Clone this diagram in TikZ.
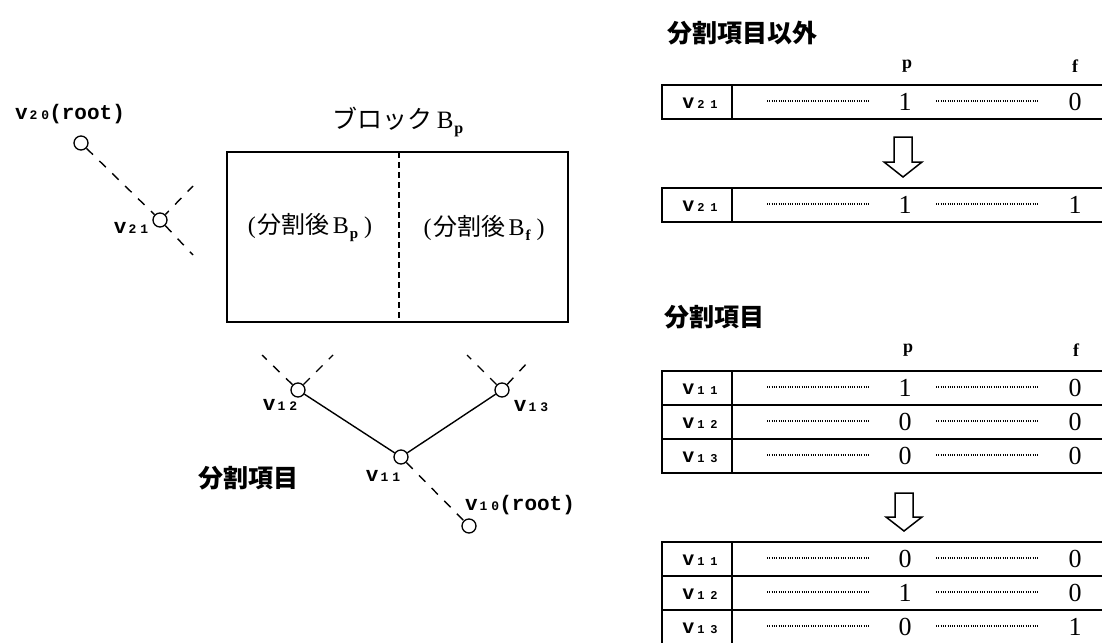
\documentclass[tikz,border=0pt]{standalone}
\usepackage{fontspec}
\setmainfont{Liberation Serif}
\newfontfamily\jp{Noto Sans CJK JP}
\newfontfamily\mono{Liberation Mono}
\newcommand{\vsub}[2]{{\mono\bfseries v\hspace{2pt}{\fontsize{13}{13}\selectfont #1\hspace{4pt}#2}}}
\newcommand{\tsub}[2]{{\mono\bfseries v\hspace{3pt}{\fontsize{12}{12}\selectfont #1\hspace{6pt}#2}}}
\newcommand{\bsub}[2]{B\hspace{1pt}\raisebox{-5pt}{\fontsize{#2}{#2}\selectfont\bfseries #1}}
\tikzset{
  vtx/.style={circle,draw,line width=1.3pt,minimum size=14pt,inner sep=0pt},
  dsh/.style={line width=1.4pt,dash pattern=on 9pt off 9pt},
  sol/.style={line width=1.4pt},
  lbl/.style={inner sep=0pt,font=\fontsize{21}{21}\selectfont},
  tlbl/.style={inner sep=0pt,font=\fontsize{20}{20}\selectfont},
  tbl/.style={line width=1.8pt},
  dotl/.style={line width=1.1pt,dash pattern=on 1pt off 1.3pt},
  num/.style={inner sep=0pt,font=\fontsize{26}{26}\selectfont},
  hd/.style={inner sep=0pt,font=\fontsize{18}{18}\selectfont\bfseries},
  jph/.style={inner sep=0pt,font=\jp\bfseries\fontsize{25}{25}\selectfont},
  jpt/.style={inner sep=0pt,font=\fontsize{24}{24}\selectfont},
  arr/.style={line width=1.5pt,line join=miter}
}
\newcommand{\trow}[5]{%
  \draw[tbl] (662,#1) rectangle (1130,#1+34);
  \draw[tbl] (732,#1) -- (732,#1+34);
  \node[tlbl] (#5l) at (700,#1+18) {#2};
  \coordinate (#5a) at (767,#1+16);
  \coordinate (#5b) at (870,#1+16);
  \coordinate (#5c) at (936,#1+16);
  \coordinate (#5d) at (1038,#1+16);
  \draw[dotl] (#5a) -- (#5b);
  \draw[dotl] (#5c) -- (#5d);
  \node[num] (#5p) at (905,#1+17) {#3};
  \node[num] (#5f) at (1075,#1+17) {#4};
}
\begin{document}
\begin{tikzpicture}[x=1pt,y=-1pt]
\useasboundingbox (0,0) rectangle (1102,642);
\begin{scope}
\clip (0,0) rectangle (1102,642);

% ---------- left tree ----------
\node[lbl] (l20) at (70,114) {\vsub{2}{0}{\mono\bfseries(root)}};
\node[vtx] (v20) at (81,143) {};
\node[vtx] (v21) at (160,220) {};
\coordinate (e21a) at (193,255);
\coordinate (e21b) at (193,186);
\draw[dsh] (v20) -- (v21);
\draw[dsh] (v21) -- (e21a);
\draw[dsh,dash phase=4pt] (v21) -- (e21b);
\node[lbl] (l21) at (131,228) {\vsub{2}{1}};

% block
\node[inner sep=0pt,font=\fontsize{25}{25}\selectfont] (bt) at (398,122) {{\jp ブロック}\,\bsub{p}{16}};
\node[draw,line width=1.4pt,minimum width=341pt,minimum height=170pt,inner sep=0pt] (blk) at (397.5,237) {};
\coordinate (dv1) at (399,152);
\coordinate (dv2) at (399,322);
\draw[line width=1.6pt,dash pattern=on 6pt off 4pt] (dv1) -- (dv2);
\node[jpt] (bp) at (310,228) {(\hspace{2pt}{\jp 分割後}\hspace{3pt}\bsub{p}{15}\hspace{6pt})};
\node[jpt] (bf) at (484,228) {(\hspace{2pt}{\jp 分割後}\hspace{3pt}\bsub{f}{15}\hspace{6pt})};

% lower tree
\node[vtx] (v12) at (298,390) {};
\node[vtx] (v13) at (502,390) {};
\node[vtx] (v11) at (401,457) {};
\node[vtx] (v10) at (469,526) {};
\coordinate (e12a) at (262,355);
\coordinate (e12b) at (333,355);
\coordinate (e13a) at (467,355);
\coordinate (e13b) at (528,362);
\draw[dsh] (v12) -- (e12a);
\draw[dsh] (v12) -- (e12b);
\draw[dsh] (v13) -- (e13a);
\draw[dsh] (v13) -- (e13b);
\draw[sol] (v12) -- (v11);
\draw[sol] (v11) -- (v13);
\draw[dsh] (v11) -- (v10);
\node[lbl] (l12) at (280,405) {\vsub{1}{2}};
\node[lbl] (l13) at (531,406) {\vsub{1}{3}};
\node[lbl] (l11) at (383,476) {\vsub{1}{1}};
\node[lbl] (l10) at (520,505) {\vsub{1}{0}{\mono\bfseries(root)}};
\node[jph] (sk1) at (248,478) {分割項目};

% ---------- right tables ----------
\node[jph] (h1) at (742,33) {分割項目以外};
\node[hd] (p1) at (907,66) {p};
\node[hd] (f1) at (1075,66) {f};
\trow{85}{\tsub{2}{1}}{1}{0}{ta}
\draw[arr] (894,137) -- (912,137) -- (912,162) -- (922,162) -- (903,177) -- (884,162) -- (894,162) -- cycle;
\trow{188}{\tsub{2}{1}}{1}{1}{tb}

\node[jph] (h2) at (714,317) {分割項目};
\node[hd] (p2) at (908,350) {p};
\node[hd] (f2) at (1076,350) {f};
\trow{371}{\tsub{1}{1}}{1}{0}{tc}
\trow{405}{\tsub{1}{2}}{0}{0}{td}
\trow{439}{\tsub{1}{3}}{0}{0}{te}
\draw[arr] (895,493) -- (913,493) -- (913,517) -- (922,517) -- (904,531) -- (886,517) -- (895,517) -- cycle;
\trow{542}{\tsub{1}{1}}{0}{0}{tf}
\trow{576}{\tsub{1}{2}}{1}{0}{tg}
\trow{610}{\tsub{1}{3}}{0}{1}{th}
\end{scope}
\end{tikzpicture}
\end{document}
